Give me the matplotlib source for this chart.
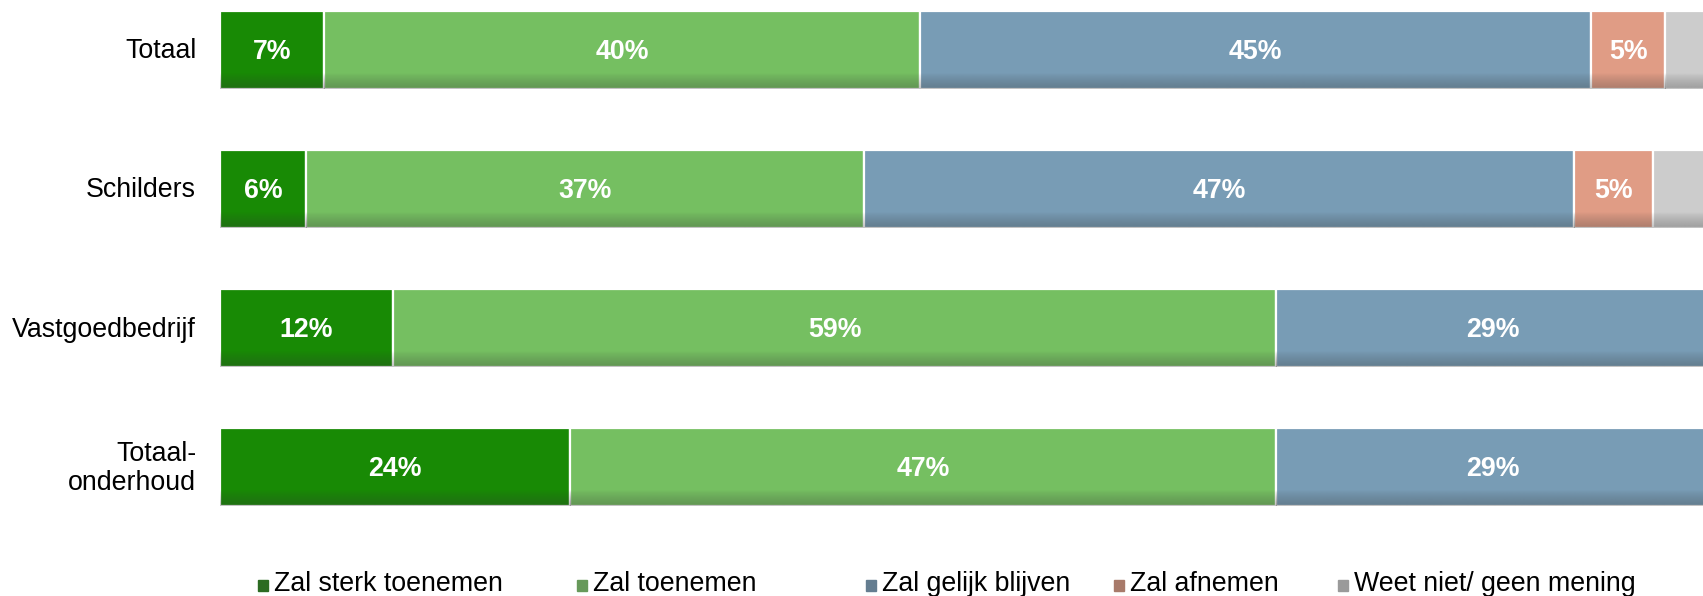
import matplotlib
matplotlib.use("Agg")
import matplotlib.pyplot as plt
import numpy as np
from matplotlib.patches import Rectangle

plt.rcParams['font.family'] = ['Liberation Sans', 'DejaVu Sans']

categories = ["Totaal", "Schilders", "Vastgoedbedrijf", "Totaal-\nonderhoud"]
series_names = ["Zal sterk toenemen", "Zal toenemen", "Zal gelijk blijven",
                "Zal afnemen", "Weet niet/ geen mening"]
sterk_toenemen = [7.0, 5.8, 11.6, 23.5]
toenemen = [40.0, 37.4, 59.3, 47.4]
gelijk = [45.0, 47.7, 29.1, 29.1]
afnemen = [5.0, 5.3, 0.0, 0.0]
weet_niet = [3.0, 3.8, 0.0, 0.0]
labels_sterk = ["7%", "6%", "12%", "24%"]
labels_toenemen = ["40%", "37%", "59%", "47%"]
labels_gelijk = ["45%", "47%", "29%", "29%"]
labels_afnemen = ["5%", "5%", "", ""]
labels_weet = ["", "", "", ""]

series = [sterk_toenemen, toenemen, gelijk, afnemen, weet_niet]
series_labels = [labels_sterk, labels_toenemen, labels_gelijk, labels_afnemen, labels_weet]
colors = ["#188a05", "#75bf61", "#789cb5", "#e09c85", "#cccccc"]
legend_colors = ["#2c6b22", "#67995a", "#647d90", "#a87a6a", "#9a9a9a"]

W, H = 1703, 596
fig = plt.figure(figsize=(W / 100, H / 100), dpi=100)
ax = fig.add_axes([220 / W, 76 / H, 1490 / W, 520 / H])
ax.set_xlim(0, 100)
ax.set_ylim(3.38, -0.36)
ax.axis('off')

ypos = np.arange(len(categories))
left = np.zeros(len(categories))
bar_h = 0.561

# vertical darkening gradient at the bottom of each bar
grad = np.zeros((100, 1, 4))
grad[:, 0, :3] = 0.2
t = np.linspace(0, 1, 100)
alpha = np.clip((t - 0.80) / 0.20, 0, 1) ** 0.8 * 0.3
grad[:, 0, 3] = alpha

for s, (vals, labs, col) in enumerate(zip(series, series_labels, colors)):
    bars = ax.barh(ypos, vals, left=left, height=bar_h, color=col,
                   edgecolor='white', linewidth=1.6)
    for b, v, lab in zip(bars, vals, labs):
        if v <= 0:
            continue
        x0, y0 = b.get_x(), b.get_y()
        w, h = b.get_width(), b.get_height()
        im = ax.imshow(grad, extent=(x0, x0 + w, y0 + h, y0), aspect='auto',
                       zorder=2.5, interpolation='bilinear')
        im.set_clip_path(b)
        if lab:
            ax.text(x0 + w / 2, y0 + h / 2 + 0.015, lab, ha='center', va='center',
                    color='white', fontsize=19.3, fontweight='bold', zorder=4)
    left = left + np.array(vals)

ax.set_xlim(0, 100)
ax.set_ylim(3.38, -0.36)

for y, cat in zip(ypos, categories):
    ax.text(-1.6, y + 0.01, cat, ha='right', va='center', fontsize=19.3,
            color='black', linespacing=1.15, clip_on=False)

# legend
sq_x = [258, 577, 866, 1114, 1338]
base = (596 - 591) / H
for name, col, x in zip(series_names, legend_colors, sq_x):
    fig.patches.append(Rectangle((x / W, base), 10 / W, 11 / H,
                                 transform=fig.transFigure, color=col))
    fig.text((x + 16) / W, base, name, ha='left', va='baseline',
             fontsize=19.3, color='black')

fig.savefig("out.png", dpi=100)
